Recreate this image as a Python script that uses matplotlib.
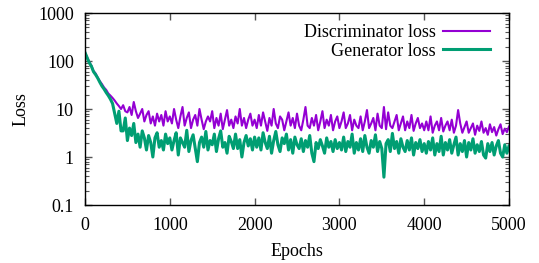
import numpy as np
import matplotlib.pyplot as plt
from matplotlib.ticker import LogLocator, FixedLocator, NullFormatter

plt.rcParams['font.family'] = ['Liberation Serif', 'DejaVu Serif']

# Data (loss every 25 epochs)
epochs = np.arange(0, 5001, 25)

disc_loss = [
    # 0 - 400
    150, 120, 95, 80, 62, 55, 45, 38, 33, 28, 25, 21, 19, 17, 15, 13, 11.5,
    # 425 - 1000
    10, 12, 9, 8.5, 11, 7.5, 14, 9, 6.5, 8, 10, 5.5, 7.5, 9, 5, 7, 4.5, 8, 5.5, 7.5, 4.5, 9, 5.5, 7,
    # 1025 - 2000
    5, 10, 6, 4, 7, 11, 4.5, 6.5, 8.5, 4, 6, 7.5, 4.5, 10, 6, 3.8, 5.5, 7, 5.5, 9,
    4, 6.5, 4.5, 8, 3.8, 6, 9.5, 4.5, 6, 4, 7, 5, 10, 4.5, 6.5, 4, 6, 8, 4.5, 6,
    # 2025 - 3000
    4, 7.5, 4.5, 8.5, 5.5, 3.5, 6.5, 4.5, 10, 5, 4, 7, 6, 3.6, 5.5, 8.5, 4.5, 6.5, 4, 8,
    4.5, 3.6, 6, 11, 4.5, 4, 6.5, 4.5, 7.5, 3.6, 5.5, 9, 4, 6, 4.5, 7.5, 3.6, 5.5, 7, 4,
    # 3025 - 4000
    5.5, 8.5, 4, 5, 7.5, 3.6, 6, 4.5, 4, 7, 3.6, 5.5, 9.5, 4, 5, 6.5, 3.6, 8, 4.5, 4,
    11, 3.8, 8.5, 4.5, 4, 5.5, 7.5, 3.6, 5, 7, 3.6, 5.5, 4, 7.5, 3.5, 5, 6.5, 4, 5, 3.6,
    # 4025 - 5000
    5.5, 3.6, 7, 3.2, 4.5, 5.5, 3.6, 6.5, 3.4, 4.5, 5.5, 3.6, 6, 3.2, 4.5, 9.5, 5, 3.2, 4.2, 5.5,
    3.2, 4, 5, 2.9, 4.5, 3.5, 5.5, 3.2, 4, 2.9, 4.8, 3.3, 4.2, 2.8, 3.8, 4.8, 3, 3.9, 3.3, 4.3,
]

gen_loss = [
    # 0 - 325
    150, 118, 92, 78, 60, 52, 44, 36, 30, 26, 22, 19, 16, 13,
    # 350 - 1000
    8, 5, 9, 3.5, 3.5, 6.5, 2.2, 4, 2.8, 5, 2, 3, 1.6, 3.5, 2.5, 1.4, 2.8, 2, 1.0, 2.5,
    3.2, 1.6, 2.2, 1.4, 3, 1.9, 2.5,
    # 1025 - 2000
    1.4, 2.2, 3.2, 1.1, 2.5, 2, 1.6, 3.6, 1.3, 2.2, 2.9, 1.5, 0.8, 2, 2.6, 1.6, 3.4, 1.4, 2.2, 1.8,
    3, 1.3, 2.4, 3.5, 1.6, 2, 1.2, 2.7, 2.1, 1.5, 3, 1.5, 2.3, 1.0, 2, 2.8, 1.7, 2.4, 1.4, 2.6,
    # 2025 - 3000
    1.6, 2.5, 1.4, 3.2, 2, 1.5, 2.7, 1.2, 2.2, 3.4, 1.8, 1.3, 2.5, 1.9, 3, 1.4, 2.3, 1.2, 2.6, 1.8,
    1.5, 2.4, 1.3, 2.2, 1.6, 2.8, 1.2, 0.8, 2, 1.5, 2.3, 1.7, 1.2, 2.5, 1.6, 2.1, 1.3, 2.3, 1.5, 2,
    # 3025 - 4000
    1.4, 2.6, 1.3, 2.1, 1.6, 3, 1.2, 2, 1.4, 2.4, 1.3, 2.8, 1.6, 1.2, 2.2, 1.6, 2.9, 1.3, 2.1, 1.5,
    0.38, 1.9, 2.3, 1.3, 3.1, 1.5, 2.1, 1.2, 2.4, 1.6, 1.3, 2.2, 1.4, 2.5, 1.1, 2, 1.5, 2.3, 1.3, 1.9,
    # 4025 - 5000
    1.2, 2.1, 1.4, 2.5, 1.1, 1.9, 1.3, 2.7, 1.1, 2, 1.4, 2.3, 1.2, 1.8, 2.6, 1.1, 1.9, 1.3, 2.2, 1.0,
    2, 1.4, 2.4, 1.2, 1.8, 1.3, 2.1, 1.1, 0.95, 1.9, 1.3, 2, 1.1, 1.7, 2.2, 1.2, 1.0, 1.8, 1.2, 1.7,
]

x_ticks = [0, 1000, 2000, 3000, 4000, 5000]
y_ticks = [0.1, 1, 10, 100, 1000]
y_labels = ["0.1", "1", "10", "100", "1000"]

# Plotting
fig = plt.figure(figsize=(5.39, 2.63), dpi=100)
ax = fig.add_axes([85 / 539, 1 - 205 / 263, 424 / 539, 192 / 263])

ax.plot(epochs, disc_loss, color="#9400d3", lw=1.5, label="Discriminator loss")
ax.plot(epochs, gen_loss, color="#009e73", lw=2.2, label="Generator loss")

ax.set_yscale("log")
ax.set_xlim(0, 5000)
ax.set_ylim(0.1, 1000)
ax.xaxis.set_major_locator(FixedLocator(x_ticks))
ax.yaxis.set_major_locator(FixedLocator(y_ticks))
ax.set_yticklabels(y_labels)
ax.yaxis.set_minor_locator(LogLocator(base=10, subs=np.arange(2, 10)))
ax.yaxis.set_minor_formatter(NullFormatter())

ax.tick_params(which="both", direction="in", top=True, right=True,
               labelsize=13, color="#555555")
ax.tick_params(axis="x", pad=9)
ax.tick_params(axis="y", pad=8)
ax.tick_params(which="major", length=5, width=1)
ax.tick_params(which="minor", length=3, width=0.8)
for s in ax.spines.values():
    s.set_linewidth(1.0)

ax.set_xlabel("Epochs", fontsize=13, labelpad=6)
ax.set_ylabel("Loss", fontsize=13, labelpad=6)

ax.legend(loc="upper right", frameon=False, markerfirst=False, fontsize=13,
          handlelength=2.6, handletextpad=0.4, labelspacing=0.1,
          borderaxespad=0.2, bbox_to_anchor=(0.98, 1.0))

plt.savefig("out.png", dpi=100)
